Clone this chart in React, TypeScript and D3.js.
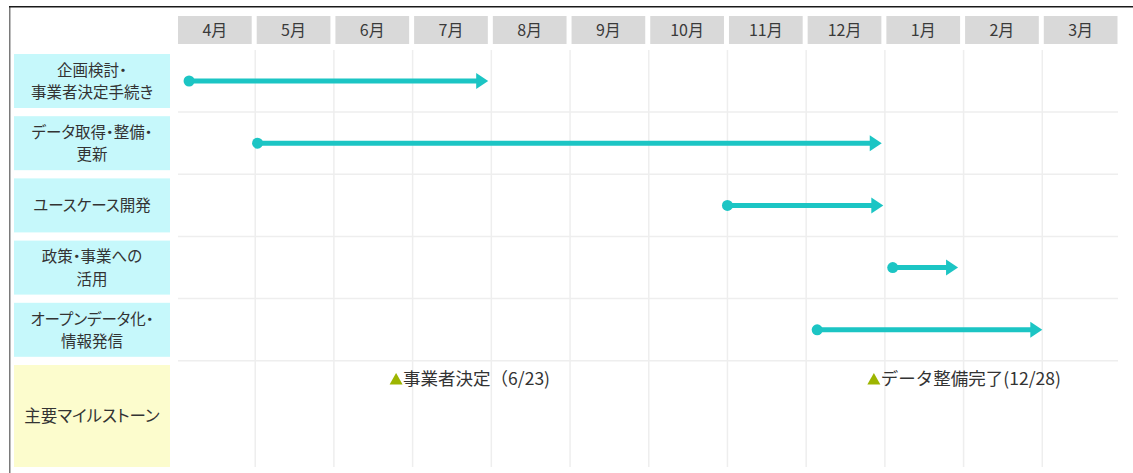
import React from "react";
import * as d3 from "d3";

// ---- data ----
const months = ["4月", "5月", "6月", "7月", "8月", "9月", "10月", "11月", "12月", "1月", "2月", "3月"];
const taskLabels = [
  ["企画検討・", "事業者決定手続き"],
  ["データ取得・整備・", "更新"],
  ["ユースケース開発"],
  ["政策・事業への", "活用"],
  ["オープンデータ化・", "情報発信"],
];
// fractional month index (0 = start of April)
const taskStart = [0.16, 1.03, 7.0, 9.1, 8.14];
const taskEnd = [3.96, 8.96, 8.98, 9.93, 11.0];
const milestoneTitle = "主要マイルストーン";
const milestoneLabels = ["事業者決定（6/23)", "データ整備完了(12/28)"];
const milestoneAt = [2.79, 8.86];

const W = 1133;
const H = 473;
const FONT = "'Noto Sans CJK JP', 'Noto Sans', sans-serif";
const TEAL = "#1cc5c4";

export default function App() {
  const x = d3.scaleLinear().domain([0, 12]).range([176.5, 1121]);
  const colW = x(1) - x(0);
  const rowPitch = 62.2;
  const rowTop = (i: number) => 54 + rowPitch * i;
  const rowH = 54;
  const rowY = (i: number) => rowTop(i) + rowH / 2;
  const msTop = rowTop(taskLabels.length);
  const msBottom = 467;

  return (
    <div style={{ position: "absolute", left: 0, top: 0 }}>
      <svg width={W} height={H} style={{ display: "block", fontFamily: FONT }}>
        <rect x={0} y={0} width={W} height={H} fill="#fff" />
        {/* outer frame */}
        <rect x={9} y={6} width={1.5} height={H - 6} fill="#7a7a7a" />
        <rect x={9} y={6} width={W - 9} height={1.5} fill="#1a1a1a" />

        {/* header cells */}
        {months.map((m, i) => (
          <g key={m}>
            <rect x={x(i) + 1.5} y={16} width={colW - 5} height={28} fill="#d9d9d9" />
            <text
              x={x(i) + 1.5 + (colW - 5) / 2}
              y={36}
              textAnchor="middle"
              fontSize={16}
              fill="#3a3a3a"
            >
              {m}
            </text>
          </g>
        ))}

        {/* grid */}
        {d3.range(1, 12).map((i) => (
          <line key={"v" + i} x1={x(i)} x2={x(i)} y1={50} y2={msBottom} stroke="#eeeeee" strokeWidth={1.5} />
        ))}
        {d3.range(0, taskLabels.length).map((i) => (
          <line
            key={"h" + i}
            x1={178}
            x2={1118}
            y1={rowTop(i) + rowH + 4}
            y2={rowTop(i) + rowH + 4}
            stroke="#eeeeee"
            strokeWidth={1.5}
          />
        ))}

        {/* row labels */}
        {taskLabels.map((lines, i) => (
          <g key={"l" + i}>
            <rect x={14} y={rowTop(i)} width={156} height={rowH} fill="#c6f8fb" />
            {lines.map((ln, j) => (
              <text
                key={j}
                x={92}
                y={rowY(i) + 6 + (j - (lines.length - 1) / 2) * 22.5}
                textAnchor="middle"
                fontSize={15.5}
                fill="#333"
                style={{ fontFeatureSettings: "'palt'" }}
              >
                {ln}
              </text>
            ))}
          </g>
        ))}
        <rect x={14} y={msTop} width={156} height={msBottom - msTop} fill="#fcfccd" />
        <text
          x={92}
          y={(msTop + msBottom) / 2 + 6}
          textAnchor="middle"
          fontSize={16.5}
          fill="#333"
          style={{ fontFeatureSettings: "'palt'" }}
        >
          {milestoneTitle}
        </text>

        {/* task arrows */}
        {taskStart.map((s, i) => {
          const x1 = x(s);
          const x2 = x(taskEnd[i]);
          const y = rowY(i);
          const head = 12;
          return (
            <g key={"a" + i}>
              <line x1={x1} x2={x2 - head + 1} y1={y} y2={y} stroke={TEAL} strokeWidth={5} />
              <circle cx={x1} cy={y} r={5.5} fill={TEAL} />
              <path d={`M${x2},${y} L${x2 - head},${y - 8} L${x2 - head},${y + 8} Z`} fill={TEAL} />
            </g>
          );
        })}

        {/* milestones */}
        {milestoneAt.map((m, i) => {
          const cx = x(m);
          const cy = 379;
          return (
            <g key={"m" + i}>
              <path d={`M${cx},${cy - 6} L${cx + 6.5},${cy + 5.5} L${cx - 6.5},${cy + 5.5} Z`} fill="#9db500" />
              <text x={cx + 7} y={cy + 6} fontSize={17.5} fill="#333">
                {milestoneLabels[i]}
              </text>
            </g>
          );
        })}
      </svg>
    </div>
  );
}
